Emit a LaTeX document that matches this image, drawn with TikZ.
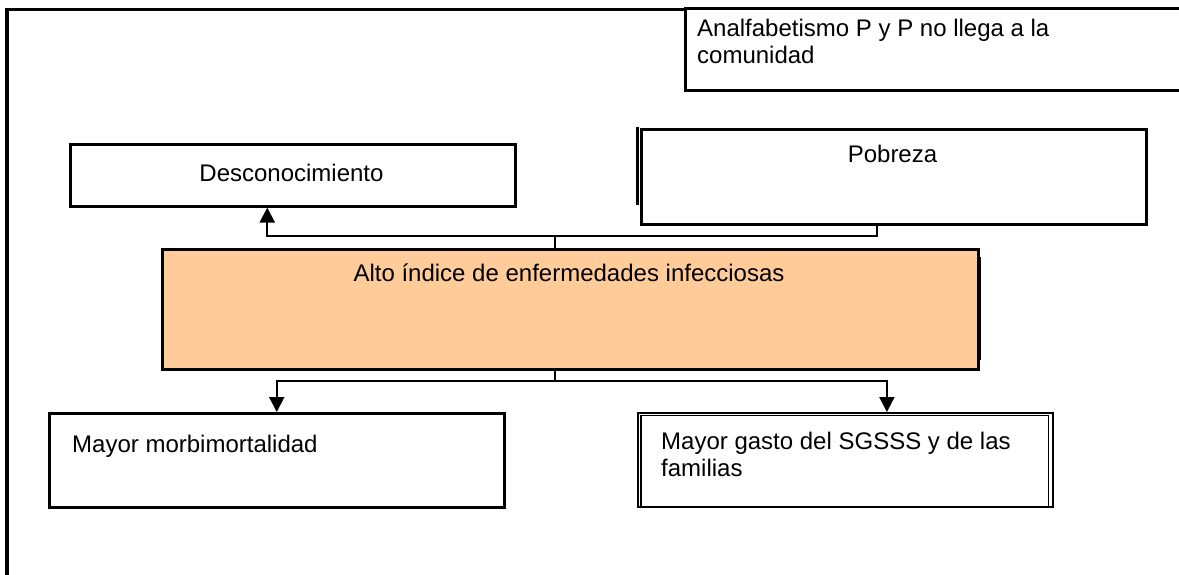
\documentclass[tikz,border=0pt]{standalone}
\usepackage{fontspec}
\setmainfont{Liberation Sans}
\usetikzlibrary{arrows.meta,calc}
\definecolor{peach}{HTML}{FFCC99}
\tikzset{
  box/.style={draw=black, line width=2.5pt, rectangle, inner sep=0pt, anchor=north west},
  txt/.style={inner sep=0pt, font=\fontsize{24}{27.5}\selectfont, align=left},
  conn/.style={draw=black, line width=2pt},
  arrowc/.style={conn, -{Triangle[length=15pt,width=15pt]}},
  frame/.style={draw=black, line width=3.5pt}
}
\begin{document}
\begin{tikzpicture}[x=1pt,y=-1pt]
\useasboundingbox (0,0) rectangle (1179,574);
\clip (0,0) rectangle (1179,574);
% outer frame
\draw[frame] (684,9.5) -- (7,9.5) -- (7,580);
% boxes
\node[box, minimum width=520, minimum height=82] (anal) at (684,7) {};
\node[txt, anchor=north west] (tanal) at (697,18.8) {Analfabetismo P y P no llega a la\\comunidad};

\node[box, minimum width=445, minimum height=62] (des) at (69,143) {};
\node[txt, anchor=base] (tdes) at (291.5,181) {Desconocimiento};

\node[box, minimum width=505, minimum height=95] (pob) at (640,128) {};
\draw[line width=2.5pt] (637.5,127) -- (637.5,205);
\node[txt, anchor=base] (tpob) at (892.5,162) {Pobreza};

\node[box, fill=peach, minimum width=816, minimum height=120] (alto) at (161,248) {};
\draw[line width=3pt] (979.5,257) -- (979.5,360);
\node[txt, anchor=base] (talto) at (569,281) {Alto índice de enfermedades infecciosas};

\node[box, minimum width=455, minimum height=94] (morb) at (48,412) {};
\node[txt, anchor=base west] (tmorb) at (72,452) {Mayor morbimortalidad};

\node[box, line width=1.8pt, minimum width=415, minimum height=94] (gasto) at (637,412) {};
\draw[line width=1.8pt] (641,506) -- (641,415.5) -- (1048.5,415.5) -- (1048.5,506);
\node[txt, anchor=north west] (tgasto) at (661,431.8) {Mayor gasto del SGSSS y de las\\familias};

% connectors
\coordinate (jt) at (555,236);
\coordinate (jb) at (555,381);
\draw[conn] ($(pob.south)+(-16.5,0)$) |- (jt);
\draw[arrowc] (jt) -| ($(des.south)+(-25.5,0)$);
\draw[conn] (alto.north -| jt) -- (jt);
\draw[conn] (alto.south -| jb) -- (jb);
\draw[arrowc] (jb) -| (morb.north);
\draw[arrowc] (jb) -| ($(gasto.north)+(41.5,0)$);
\end{tikzpicture}
\end{document}
